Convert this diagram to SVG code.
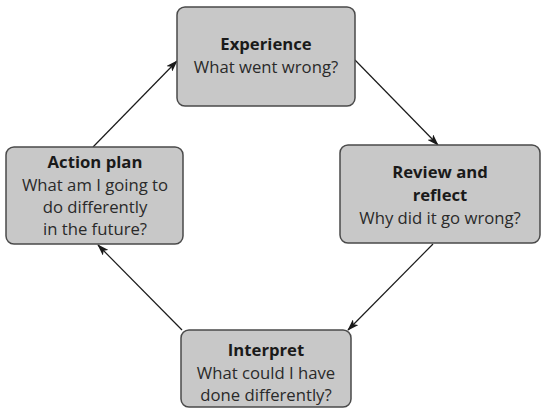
<svg xmlns="http://www.w3.org/2000/svg" width="542" height="408" viewBox="0 0 542 408">
  <style>
    .box { fill: #c8c8c8; stroke: #4a4a4a; stroke-width: 1.5; }
    .t { font-family: "Open Sans", "Noto Sans", sans-serif; font-size: 16.7px; fill: #2a2a2a; text-anchor: middle; }
    .b { font-weight: bold; fill: #1a1a1a; }
    .link { stroke: #1a1a1a; stroke-width: 1.2; fill: none; marker-end: url(#arrow); }
  </style>
  <defs>
    <marker id="arrow" viewBox="0 0 12 8" refX="11" refY="4" markerWidth="12" markerHeight="8" markerUnits="userSpaceOnUse" orient="auto">
      <path d="M0,0 L12,4 L0,8 L3,4 Z" fill="#1a1a1a"/>
    </marker>
  </defs>
  <rect width="542" height="408" fill="#ffffff"/>

  <g id="connectors">
    <line class="link" x1="93" y1="147" x2="177" y2="61"/>
    <line class="link" x1="355" y1="60" x2="438" y2="145"/>
    <line class="link" x1="433" y1="244" x2="348" y2="330"/>
    <line class="link" x1="182" y1="330" x2="98" y2="245"/>
  </g>

  <g id="experience">
    <rect class="box" x="177" y="7" width="178" height="99" rx="8"/>
    <text class="t b" x="266" y="50">Experience</text>
    <text class="t" x="266" y="73">What went wrong?</text>
  </g>

  <g id="review">
    <rect class="box" x="340" y="145" width="200" height="98" rx="8"/>
    <text class="t b" x="440" y="178">Review and</text>
    <text class="t b" x="440" y="201">reflect</text>
    <text class="t" x="440" y="224">Why did it go wrong?</text>
  </g>

  <g id="interpret">
    <rect class="box" x="181" y="330" width="170" height="77" rx="8"/>
    <text class="t b" x="266" y="356">Interpret</text>
    <text class="t" x="266" y="379">What could I have</text>
    <text class="t" x="266" y="401">done differently?</text>
  </g>

  <g id="action-plan">
    <rect class="box" x="6" y="147" width="177" height="97" rx="8"/>
    <text class="t b" x="95" y="168">Action plan</text>
    <text class="t" x="95" y="191">What am I going to</text>
    <text class="t" x="95" y="213">do differently</text>
    <text class="t" x="95" y="235">in the future?</text>
  </g>
</svg>
